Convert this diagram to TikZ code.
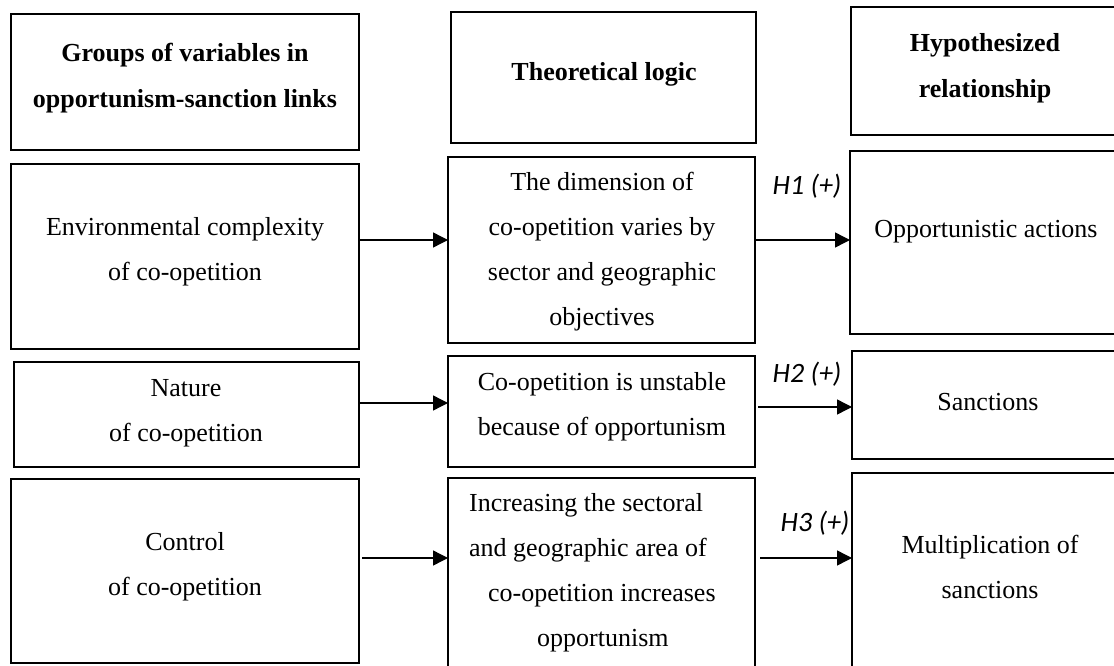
\documentclass[tikz,border=0pt]{standalone}
\usepackage{fontspec}
\setmainfont{Liberation Serif}
\newfontfamily\hfont{Carlito}
\usetikzlibrary{arrows.meta,fit}
\begin{document}
\begin{tikzpicture}[x=1pt,y=-1pt,
  box/.style={draw, line width=1.8pt, inner sep=0pt, outer sep=0pt},
  txt/.style={align=center, font=\fontsize{26}{45}\selectfont, inner sep=0pt},
  hdr/.style={align=center, font=\fontsize{26}{46}\selectfont\bfseries, inner sep=0pt},
  hyp/.style={font=\hfont\itshape\fontsize{28}{30}\selectfont, inner sep=0pt},
  arr/.style={-{Triangle[length=15pt,width=15pt]}, line width=1.4pt}]
\useasboundingbox (0,0) rectangle (1114,666);
\clip (0,0) rectangle (1114,666);
% boxes
\node[box, fit={(11,14) (359,150)}] (a1) {};
\node[box, fit={(451,12) (756,143)}] (b1) {};
\node[box, fit={(851,7) (1120,135)}] (c1) {};
\node[box, fit={(11,164) (359,349)}] (a2) {};
\node[box, fit={(448,157) (755,343)}] (b2) {};
\node[box, fit={(850,151) (1120,334)}] (c2) {};
\node[box, fit={(14,362) (359,467)}] (a3) {};
\node[box, fit={(448,356) (755,467)}] (b3) {};
\node[box, fit={(852,351) (1120,459)}] (c3) {};
\node[box, fit={(11,479) (359,663)}] (a4) {};
\node[box, fit={(448,478) (755,680)}] (b4) {};
\node[box, fit={(852,473) (1120,680)}] (c4) {};
% texts
\node[hdr] (a1t) at (185,78) {Groups of variables in\\opportunism-sanction links};
\node[hdr] (b1t) at (604,74) {Theoretical logic};
\node[hdr] (c1t) at (985,68) {Hypothesized\\relationship};
\node[txt] (a2t) at (185,252) {Environmental complexity\\of co-opetition};
\node[txt] (b2t) at (602,252) {The dimension of\\co-opetition varies by\\sector and geographic\\objectives};
\node[txt] (c2t) at (986,232) {Opportunistic actions};
\node[txt] (a3t) at (186,413) {Nature\\of co-opetition};
\node[txt] (b3t) at (602,407) {Co-opetition is unstable\\because of opportunism};
\node[txt] (c3t) at (988,402) {Sanctions};
\node[txt] (a4t) at (185,567) {Control\\of co-opetition};
\node[txt, align=left, anchor=west] (b4t) at (469,573) {Increasing the sectoral\\and geographic area of\\\hspace*{19pt}co-opetition increases\\\hspace*{68pt}opportunism};
\node[txt] (c4t) at (990,567) {Multiplication of\\sanctions};
% hypothesis labels
\node[hyp] (h1) at (807,186) {H1 (+)};
\node[hyp] (h2) at (807,374) {H2 (+)};
\node[hyp] (h3) at (815,523) {H3 (+)};
% arrow levels
\coordinate (r2) at (0,240);
\coordinate (r3a) at (0,403);
\coordinate (r3b) at (0,407);
\coordinate (r4) at (0,558);
% arrows
\draw[arr] (a2.east |- r2) -- (b2.west |- r2);
\draw[arr] (b2.east |- r2) -- (c2.west |- r2);
\draw[arr] (a3.east |- r3a) -- (b3.west |- r3a);
\draw[arr, shorten <=3pt] (b3.east |- r3b) -- (c3.west |- r3b);
\draw[arr, shorten <=3pt] (a4.east |- r4) -- (b4.west |- r4);
\draw[arr, shorten <=5pt] (b4.east |- r4) -- (c4.west |- r4);
\end{tikzpicture}
\end{document}
